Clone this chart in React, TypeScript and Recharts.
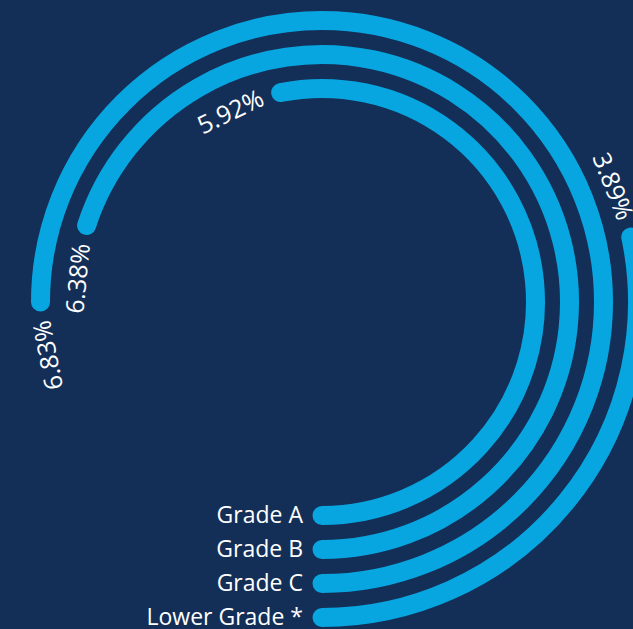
import { PolarAngleAxis, PolarRadiusAxis, RadialBar, RadialBarChart } from "recharts";

const grades = ["Grade A", "Grade B", "Grade C", "Lower Grade *"];
const rates = [5.92, 6.38, 6.83, 3.89];
// how far round the circle each bar runs in the picture (percent of a full turn)
const barShare = [53.1, 70.0, 75.0, 28.3];

const data = grades.map((grade, i) => ({ grade, rate: rates[i], share: barShare[i] }));

const background = "#142f57";
const barColor = "#07a6e0";
const fontFamily = "'Open Sans', 'Noto Sans', sans-serif";
const RAD = Math.PI / 180;

// Arc drawn as a thick stroke so both ends get round caps, plus the rate label past the end.
function RoundArc(props: any) {
  const { cx, cy, innerRadius, outerRadius, startAngle, endAngle, payload } = props;
  const r = (innerRadius + outerRadius) / 2;
  const at = (a: number, rr: number) => [cx + rr * Math.cos(-a * RAD), cy + rr * Math.sin(-a * RAD)];
  const [x0, y0] = at(startAngle, r);
  const [x1, y1] = at(endAngle, r);
  const large = Math.abs(endAngle - startAngle) > 180 ? 1 : 0;
  const labelAngle = endAngle + (54 / r) / RAD;
  const [lx, ly] = at(labelAngle, r - 1);
  return (
    <g>
      <path
        d={`M ${x0} ${y0} A ${r} ${r} 0 ${large} 0 ${x1} ${y1}`}
        fill="none"
        stroke={barColor}
        strokeWidth={outerRadius - innerRadius}
        strokeLinecap="round"
      />
      <text
        x={lx}
        y={ly}
        fill="#ffffff"
        fontSize={25}
        fontFamily={fontFamily}
        textAnchor="middle"
        dominantBaseline="central"
        transform={`rotate(${90 - labelAngle}, ${lx}, ${ly})`}
      >
        {`${payload.rate.toFixed(2)}%`}
      </text>
    </g>
  );
}

function GradeTick(props: any) {
  const { x, y, payload } = props;
  return (
    <text
      x={x - 19}
      y={y - 1}
      fill="#ffffff"
      fontSize={23}
      fontFamily={fontFamily}
      textAnchor="end"
      dominantBaseline="central"
    >
      {payload.value}
    </text>
  );
}

export default function App() {
  return (
    <div style={{ position: "absolute", left: 0, top: 0, width: 633, height: 629, background }}>
      <RadialBarChart
        width={633}
        height={629}
        data={data}
        cx={322}
        cy={302}
        innerRadius={196}
        outerRadius={332}
        startAngle={-90}
        endAngle={270}
        barSize={19}
        margin={{ top: 0, right: 0, bottom: 0, left: 0 }}
      >
        <PolarAngleAxis type="number" dataKey="share" domain={[0, 100]} tick={false} axisLine={false} />
        <PolarRadiusAxis
          type="category"
          dataKey="grade"
          angle={-90}
          axisLine={false}
          tickLine={false}
          tick={<GradeTick />}
        />
        <RadialBar dataKey="share" shape={RoundArc} isAnimationActive={false} />
      </RadialBarChart>
    </div>
  );
}
